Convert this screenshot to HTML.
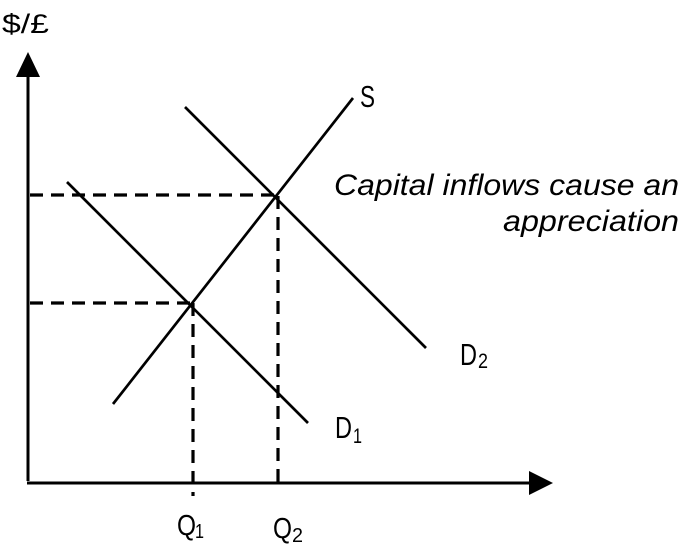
<!DOCTYPE html>
<html>
<head>
<meta charset="utf-8">
<style>
  html, body { margin: 0; padding: 0; background: #ffffff; }
  body { width: 684px; height: 548px; overflow: hidden; }
  svg { display: block; }
  text { font-family: "Liberation Sans", "DejaVu Sans", sans-serif; fill: #000; }
</style>
</head>
<body>
<svg width="684" height="548" viewBox="0 0 684 548" xmlns="http://www.w3.org/2000/svg">
  <rect x="0" y="0" width="684" height="548" fill="#ffffff"/>

  <!-- Axes -->
  <line x1="28" y1="70" x2="28" y2="481" stroke="#000" stroke-width="3"/>
  <polygon points="16,77 40,77 28,52" fill="#000"/>
  <line x1="27" y1="483" x2="533" y2="483" stroke="#000" stroke-width="3"/>
  <polygon points="529,471 529,495 553,483" fill="#000"/>

  <!-- Dashed guides -->
  <g stroke="#000" stroke-width="3.2" stroke-dasharray="13 8" fill="none">
    <line x1="30" y1="195" x2="276" y2="195"/>
    <line x1="30" y1="303" x2="192" y2="303"/>
    <line x1="193" y1="303" x2="193" y2="496"/>
    <line x1="278" y1="196" x2="278" y2="483"/>
  </g>

  <!-- Curves -->
  <g stroke="#000" stroke-width="2.7" fill="none">
    <line x1="113" y1="404" x2="353" y2="98"/>
    <line x1="67" y1="182" x2="308" y2="423"/>
    <line x1="185" y1="107" x2="426" y2="348"/>
  </g>

  <!-- Labels -->
  <text x="2" y="33" font-size="27" textLength="47" lengthAdjust="spacingAndGlyphs">$/£</text>
  <text x="360" y="107" font-size="31" textLength="15" lengthAdjust="spacingAndGlyphs">S</text>

  <text x="460" y="365" font-size="31" textLength="17" lengthAdjust="spacingAndGlyphs">D</text>
  <text x="478" y="368" font-size="21" textLength="10" lengthAdjust="spacingAndGlyphs">2</text>

  <text x="335" y="438" font-size="31" textLength="17" lengthAdjust="spacingAndGlyphs">D</text>
  <text x="353" y="443" font-size="21" textLength="9" lengthAdjust="spacingAndGlyphs">1</text>

  <text x="177" y="535" font-size="29" textLength="19" lengthAdjust="spacingAndGlyphs">Q</text>
  <text x="195" y="538" font-size="20" textLength="9" lengthAdjust="spacingAndGlyphs">1</text>

  <text x="273" y="538" font-size="29" textLength="19" lengthAdjust="spacingAndGlyphs">Q</text>
  <text x="292" y="542" font-size="20" textLength="11" lengthAdjust="spacingAndGlyphs">2</text>

  <text x="334" y="195" font-size="30" font-style="italic" textLength="345" lengthAdjust="spacingAndGlyphs">Capital inflows cause an</text>
  <text x="503" y="231" font-size="30" font-style="italic" textLength="176" lengthAdjust="spacingAndGlyphs">appreciation</text>
</svg>
</body>
</html>
